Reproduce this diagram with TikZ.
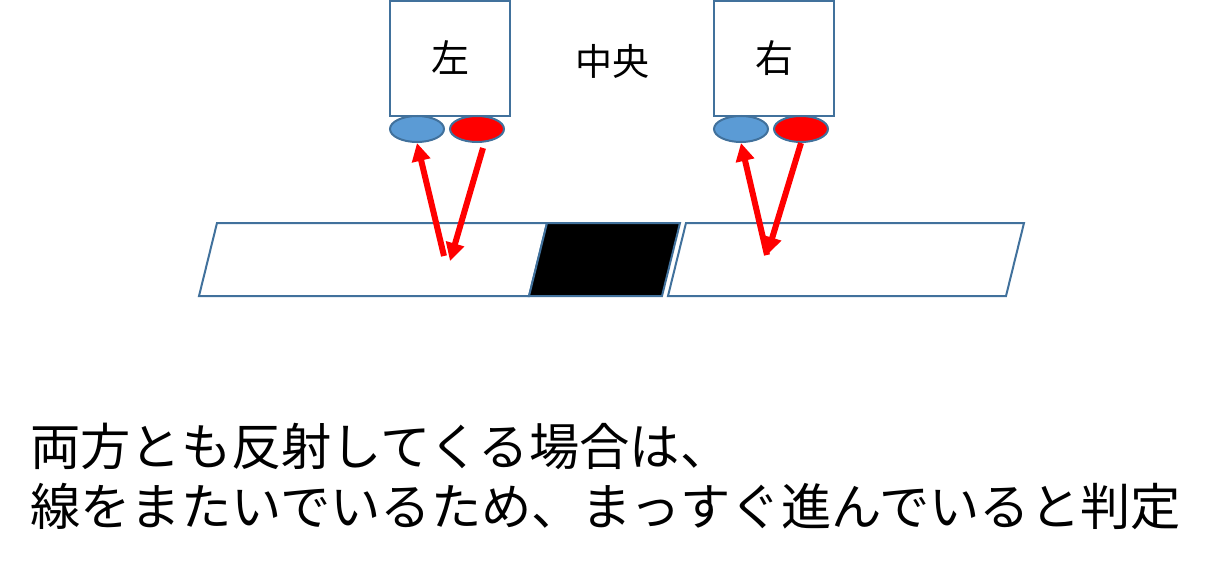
\documentclass[tikz,border=0pt]{standalone}
\usepackage{fontspec}
\newfontfamily\jpfont{Noto Sans CJK JP}
\usetikzlibrary{shapes.geometric,arrows.meta}
\definecolor{edgeblue}{HTML}{41719C}
\definecolor{ledblue}{HTML}{5B9BD5}
\tikzset{
    sensorbox/.style={rectangle, draw=edgeblue, line width=2pt, minimum width=120pt, minimum height=115pt, inner sep=0pt, text height=36pt, text depth=8pt, font=\jpfont\fontsize{38}{38}\selectfont},
    led/.style={ellipse, draw=edgeblue, line width=2pt, minimum width=54pt, minimum height=26pt, inner sep=0pt},
    strip/.style={draw=edgeblue, line width=2pt, line join=miter},
    ray/.style={draw=red, line width=6pt, -{Triangle[length=18pt,width=18pt]}}
}
\begin{document}
\begin{tikzpicture}[x=1pt, y=-1pt]
    \useasboundingbox (0,0) rectangle (1211,562);

    % Sensor boxes.
    \node[sensorbox] (S-left) at (450,58.5) {左};
    \node[sensorbox] (S-right) at (774,58.5) {右};
    \node[font=\jpfont\fontsize{37}{37}\selectfont] (center) at (612.5,61) {中央};

    % Emitters and receivers.
    \foreach \name/\x in {left/417,right/741} {
        \node[led, fill=ledblue] (B-\name) at (\x,129) {};
        \node[led, fill=red] (R-\name) at (\x+60,129) {};
    }

    % Line strips.
    \draw[strip] (217,223) -- (547,223) -- (529,296) -- (199,296) -- cycle;
    \draw[strip, fill=black] (547,223) -- (680,223) -- (662,296) -- (529,296) -- cycle;
    \draw[strip] (686,223) -- (1024,223) -- (1006,296) -- (668,296) -- cycle;

    % Reflection points.
    \coordinate (P-a) at (444,256);
    \coordinate (P-b) at (450,261);
    \coordinate (P-c) at (767,255);
    \coordinate (Q-a) at (483,148);

    % Rays.
    \draw[ray] (P-a) -- (B-left.south);
    \draw[ray] (Q-a) -- (P-b);
    \draw[ray] (P-c) -- (B-right.south);
    \draw[ray] (R-right.south) -- (P-c);

    % Caption.
    \node[anchor=west, align=left, inner sep=0pt, font=\jpfont\fontsize{50.3}{60}\selectfont] (caption) at (30,476)
        {両方とも反射してくる場合は、\\線をまたいでいるため、まっすぐ進んでいると判定};
\end{tikzpicture}
\end{document}
